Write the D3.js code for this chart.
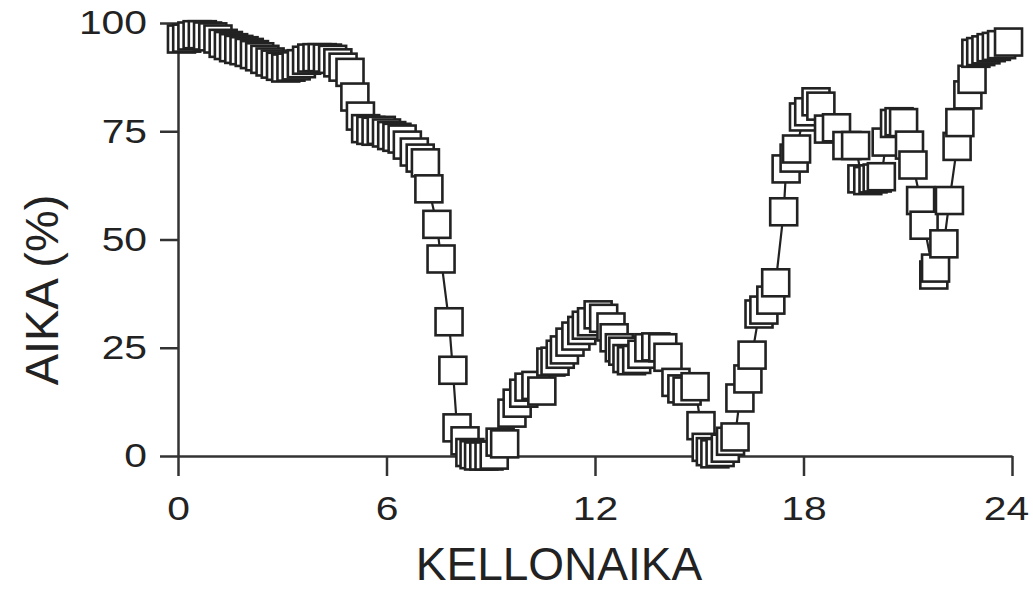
<!DOCTYPE html>
<html>
<head>
<meta charset="utf-8">
<script src="https://cdn.jsdelivr.net/npm/d3@7"></script>
<style>
  html, body { margin: 0; padding: 0; background: #fff; }
  svg { display: block; }
  text { font-family: "Liberation Sans", Arial, Helvetica, sans-serif; }
</style>
</head>
<body>
<svg id="chart" width="1033" height="591"></svg>
<script>
// Time of day (hours)
const hours = [
  0.10, 0.25, 0.40, 0.55, 0.70, 0.85, 1.00, 1.15, 1.30, 1.45,
  1.60, 1.75, 1.90, 2.05, 2.20, 2.35, 2.50, 2.65, 2.80, 2.95,
  3.10, 3.25, 3.40, 3.55, 3.70, 3.85, 4.00, 4.15, 4.30, 4.45,
  4.60, 4.75, 4.95, 5.09, 5.25, 5.40, 5.55, 5.70, 5.85, 6.00,
  6.15, 6.30, 6.45, 6.60, 6.80, 6.97, 7.12, 7.22, 7.45, 7.57,
  7.80, 7.91, 8.03, 8.26, 8.40, 8.52, 8.65, 8.80, 8.95, 9.10,
  9.27, 9.40, 9.61, 9.76, 9.95, 10.10, 10.30, 10.47, 10.73, 10.85,
  11.00, 11.12, 11.28, 11.45, 11.62, 11.75, 11.90, 12.09, 12.25, 12.46,
  12.55, 12.70, 12.80, 12.92, 13.05, 13.20, 13.35, 13.55, 13.75, 13.95,
  14.10, 14.33, 14.50, 14.65, 14.88, 15.05, 15.20, 15.32, 15.45, 15.60,
  15.75, 15.90, 16.03, 16.17, 16.40, 16.52, 16.72, 16.86, 17.06, 17.20,
  17.43, 17.50, 17.73, 17.80, 18.00, 18.15, 18.36, 18.50, 18.72, 18.95,
  19.25, 19.50, 19.68, 19.85, 20.00, 20.12, 20.24, 20.38, 20.62, 20.75,
  20.88, 21.05, 21.15, 21.37, 21.47, 21.75, 21.80, 22.04, 22.20, 22.42,
  22.50, 22.73, 22.85, 22.96, 23.10, 23.25, 23.40, 23.55, 23.70, 23.90
];
// AIKA (%)
const aika = [
  96.3, 96.5, 97.0, 97.3, 97.3, 97.0, 96.8, 96.3, 95.3, 94.8,
  94.3, 93.9, 93.6, 93.2, 92.7, 92.2, 91.6, 91.0, 90.5, 90.0,
  89.6, 89.8, 90.1, 90.6, 91.4, 91.9, 92.0, 92.0, 91.9, 91.6,
  90.8, 89.8, 88.6, 82.9, 78.5, 75.6, 75.2, 75.0, 75.2, 74.6,
  74.0, 73.6, 73.2, 71.8, 70.2, 68.8, 67.7, 61.7, 53.5, 45.5,
  31.0, 19.8, 6.5, 3.5, 0.8, 0.3, 0.0, 0.0, 0.0, 0.2,
  3.2, 2.8, 9.9, 12.2, 14.5, 15.9, 16.3, 15.0, 21.7, 21.9,
  23.5, 24.5, 26.3, 27.7, 29.0, 30.2, 31.0, 32.6, 31.8, 29.8,
  27.3, 25.0, 24.2, 22.5, 22.0, 22.3, 23.5, 25.0, 25.2, 25.0,
  22.8, 17.0, 15.5, 15.0, 16.0, 7.0, 2.0, 1.0, 0.5, 0.8,
  1.8, 3.4, 4.4, 13.4, 17.8, 23.3, 32.8, 33.7, 36.0, 40.0,
  56.4, 66.3, 68.8, 70.9, 78.3, 79.5, 81.8, 80.8, 75.5, 75.8,
  71.7, 71.7, 64.0, 63.6, 64.0, 64.2, 64.5, 72.5, 76.8, 77.2,
  77.0, 71.8, 67.2, 59.0, 53.3, 41.8, 43.4, 49.0, 59.0, 71.5,
  77.0, 83.4, 87.0, 93.0, 93.4, 93.8, 94.3, 94.6, 95.0, 95.6
];
const xTicks = [0, 6, 12, 18, 24];
const yTicks = [0, 25, 50, 75, 100];
const xTitle = "KELLONAIKA";
const yTitle = "AIKA (%)";

const svg = d3.select("#chart");
const ink = "#222";

const x = d3.scaleLinear().domain([0, 24]).range([178, 1012]);
const y = d3.scaleLinear().domain([0, 100]).range([456, 23]);

const stretch = 1.2;

// X axis
const gx = svg.append("g").attr("transform", `translate(0,${y(0)})`)
  .call(d3.axisBottom(x).tickValues(xTicks).tickSizeInner(20).tickSizeOuter(0).tickPadding(20).tickFormat(d3.format("d")));
gx.select(".domain").attr("stroke", "#333").attr("stroke-width", 2.5);
gx.selectAll(".tick line").attr("stroke", "#333").attr("stroke-width", 2.5);
gx.selectAll(".tick text")
  .attr("font-size", 34).attr("fill", ink)
  .attr("font-family", "'Liberation Sans', Arial, sans-serif")
  .attr("x", d => (d === 24 ? -6 : 0) / stretch)
  .attr("transform", `scale(${stretch},1)`);

// Y axis
const gy = svg.append("g").attr("transform", `translate(${x(0)},0)`)
  .call(d3.axisLeft(y).tickValues(yTicks).tickSizeInner(18).tickSizeOuter(0).tickPadding(13).tickFormat(d3.format("d")));
gy.select(".domain").attr("stroke", "#333").attr("stroke-width", 2.5);
gy.selectAll(".tick line").attr("stroke", "#333").attr("stroke-width", 2.5);
gy.selectAll(".tick text")
  .attr("font-size", 34).attr("fill", ink)
  .attr("font-family", "'Liberation Sans', Arial, sans-serif")
  .attr("x", -31 / stretch)
  .attr("transform", `scale(${stretch},1)`);

// Titles
svg.append("text").attr("x", 559).attr("y", 580)
  .attr("text-anchor", "middle").attr("font-size", 46).attr("fill", ink)
  .text(xTitle);
svg.append("text")
  .attr("transform", `translate(58,290) rotate(-90)`)
  .attr("text-anchor", "middle").attr("font-size", 47).attr("fill", ink)
  .text(yTitle);

// Data
const data = hours.map((h, i) => ({ h, v: aika[i] }));

svg.append("path").datum(data)
  .attr("fill", "none").attr("stroke", ink).attr("stroke-width", 2.2)
  .attr("d", d3.line().x(d => x(d.h)).y(d => y(d.v)));

const S = 27;
svg.append("g").selectAll("rect").data(data).join("rect")
  .attr("x", d => x(d.h) - S / 2)
  .attr("y", d => y(d.v) - S / 2)
  .attr("width", S).attr("height", S)
  .attr("fill", "#fff").attr("stroke", ink).attr("stroke-width", 2.6);
</script>
</body>
</html>
